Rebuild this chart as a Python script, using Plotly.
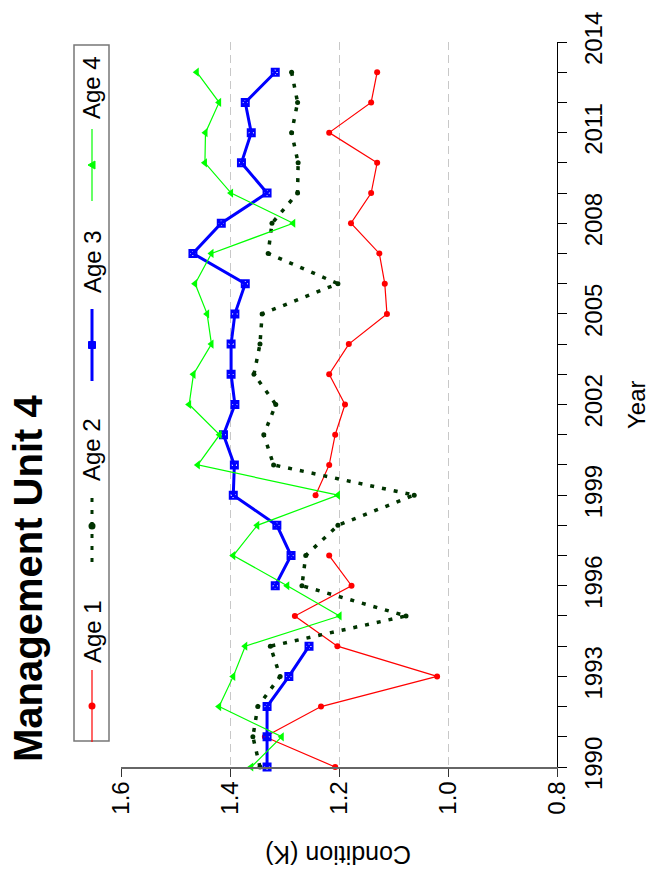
import plotly.graph_objects as go

years = list(range(1990, 2014))

age1 = [1.207, 1.336, 1.233, 1.020, 1.203, 1.281, 1.177, 1.218, None, 1.243, 1.218, 1.207,
        1.189, 1.218, 1.182, 1.112, 1.116, 1.126, 1.178, 1.141, 1.130, 1.218, 1.141, 1.130]
age2 = [1.345, 1.358, 1.349, 1.308, 1.326, 1.077, 1.268, 1.261, 1.202, 1.062, 1.320, 1.338,
        1.316, 1.356, 1.345, 1.341, 1.202, 1.330, 1.323, 1.276, 1.275, 1.287, 1.276, 1.287]
age3 = [1.332, 1.332, 1.332, 1.292, 1.255, None, 1.317, 1.288, 1.314, 1.394, 1.392, 1.412,
        1.391, 1.398, 1.398, 1.391, 1.372, 1.468, 1.416, 1.332, 1.379, 1.361, 1.372, 1.317]
age4 = [1.361, 1.305, 1.420, 1.394, 1.372, 1.199, 1.295, 1.394, 1.350, 1.202, 1.459, 1.419,
        1.475, 1.467, 1.434, 1.442, 1.464, 1.434, 1.284, 1.398, 1.446, 1.445, 1.420, 1.461]

series_names = ["Age 1", "Age 2", "Age 3", "Age 4"]
cond_ticks = [1.6, 1.4, 1.2, 1.0, 0.8]
year_ticks = list(range(1990, 2015))
year_labels = [str(y) if (y - 1990) % 3 == 0 else "" for y in year_ticks]

W, H = 653, 888
L, R, T, B = 121, 96, 42, 121
PW, PH = W - L - R, H - T - B


def px(x):
    return (x - L) / PW


def py(y):
    return (H - B - y) / PH


FONT = "Liberation Sans, Arial, sans-serif"

styles = [
    dict(color="#ff0000", width=1.2, dash="solid", symbol="circle", msize=6),
    dict(color="#003300", width=3.5, dash="4px,8px", symbol="circle", msize=5),
    dict(color="#0000ff", width=3, dash="solid", symbol="square-x-open", msize=7),
    dict(color="#00ff00", width=1.2, dash="solid", symbol="triangle-left", msize=8),
]

fig = go.Figure()
for name, vals, st in zip(series_names, [age1, age2, age3, age4], styles):
    mk = dict(color=st["color"], size=st["msize"], symbol=st["symbol"])
    if st["symbol"] == "square-x-open":
        mk["line"] = dict(color=st["color"], width=2)
    fig.add_trace(go.Scatter(
        x=vals, y=years, mode="lines+markers", name=name,
        line=dict(color=st["color"], width=st["width"], dash=st["dash"]),
        marker=mk, connectgaps=False, showlegend=False, cliponaxis=False,
    ))

shapes = []
annotations = []

# legend box
shapes.append(dict(type="rect", xref="paper", yref="paper",
                   x0=px(74), x1=px(109), y0=py(741), y1=py(45),
                   line=dict(color="#777777", width=1.5)))
leg_line_centers = [706, 526, 345, 165]
leg_text_centers = [632, 450, 262, 88]
for name, st, lc, tc in zip(series_names, styles, leg_line_centers, leg_text_centers):
    shapes.append(dict(type="line", xref="paper", yref="paper",
                       x0=px(92), x1=px(92), y0=py(lc + 36), y1=py(lc - 36),
                       line=dict(color=st["color"], width=min(st["width"], 3),
                                 dash=st["dash"])))
    r = 3.5
    if st["symbol"] == "triangle-left":
        path = "M -4 0 L 3 -4 L 3 4 Z"
    elif st["symbol"] == "square-x-open":
        path = "M -3.5 -3.5 L 3.5 -3.5 L 3.5 3.5 L -3.5 3.5 Z"
    else:
        path = None
    if path:
        shapes.append(dict(type="path", xref="paper", yref="paper",
                           xsizemode="pixel", ysizemode="pixel",
                           xanchor=px(92), yanchor=py(lc), path=path,
                           fillcolor=st["color"], line=dict(color=st["color"], width=1)))
    else:
        shapes.append(dict(type="circle", xref="paper", yref="paper",
                           xsizemode="pixel", ysizemode="pixel",
                           xanchor=px(92), yanchor=py(lc), x0=-r, x1=r, y0=-r, y1=r,
                           fillcolor=st["color"], line=dict(color=st["color"], width=0)))
    annotations.append(dict(text=name, xref="paper", yref="paper", x=px(92), y=py(tc),
                            xanchor="center", yanchor="middle", textangle=-90,
                            showarrow=False, font=dict(family=FONT, size=24, color="black")))

# title
annotations.append(dict(text="<b>Management Unit 4</b>", xref="paper", yref="paper",
                        x=px(28), y=py(579), xanchor="center", yanchor="middle",
                        textangle=-90, showarrow=False,
                        font=dict(family=FONT, size=40, color="black")))
# axis titles
annotations.append(dict(text="Year", xref="paper", yref="paper", x=px(636), y=py(405),
                        xanchor="center", yanchor="middle", textangle=-90, showarrow=False,
                        font=dict(family=FONT, size=24, color="black")))
annotations.append(dict(text="Condition (K)", xref="paper", yref="paper", x=px(338), y=py(855),
                        xanchor="center", yanchor="middle", textangle=180, showarrow=False,
                        font=dict(family=FONT, size=25, color="black")))

fig.update_layout(
    width=W, height=H,
    margin=dict(l=L, r=R, t=T, b=B),
    paper_bgcolor="white", plot_bgcolor="white",
    shapes=shapes, annotations=annotations, showlegend=False,
    xaxis=dict(range=[1.6, 0.8], tickvals=cond_ticks,
               ticktext=[f"{v:.1f}" for v in cond_ticks],
               tickangle=-90, side="bottom", showline=True, linecolor="#666666", linewidth=1.5,
               ticks="outside", ticklen=8, tickcolor="#333333", tickwidth=1,
               ticklabelstandoff=-5,
               showgrid=True, gridcolor="#c8c8c8", griddash="8px,5px", gridwidth=1,
               zeroline=False, tickfont=dict(family=FONT, size=24, color="black")),
    yaxis=dict(range=[1990, 2014], tickvals=year_ticks, ticktext=year_labels,
               tickangle=-90, side="right", showline=True, linecolor="black", linewidth=1,
               ticks="outside", ticklen=9, tickcolor="black", tickwidth=1,
               ticklabelstandoff=6,
               showgrid=False, zeroline=False,
               tickfont=dict(family=FONT, size=24, color="black")),
)

fig.write_html("out.html", config={"displayModeBar": False},
               post_script="document.body.style.margin='0';")
